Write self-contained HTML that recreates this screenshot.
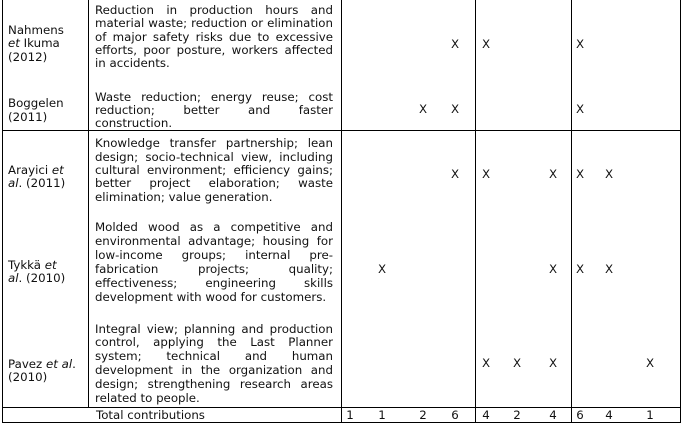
<!DOCTYPE html>
<html><head><meta charset="utf-8"><style>
body{margin:0;width:684px;height:425px;background:#fff;position:relative;overflow:hidden;font-family:"DejaVu Sans",Verdana,sans-serif;font-size:11.8px;color:#111}
.l{position:absolute;line-height:14px;white-space:nowrap}
.j{position:absolute;left:95px;width:238px;line-height:14px;text-align:justify;text-align-last:justify;white-space:nowrap}
.j.e{text-align-last:left}
.v{position:absolute;width:1px;background:#000}
.h{position:absolute;height:1px;background:#000}
.x{position:absolute;line-height:14px;width:20px;text-align:center;margin-left:-10px}
</style></head><body>
<div class="v" style="left:2px;top:0;height:423px"></div>
<div class="v" style="left:88px;top:0;height:407px"></div>
<div class="v" style="left:341px;top:0;height:423px"></div>
<div class="v" style="left:475px;top:0;height:423px"></div>
<div class="v" style="left:571px;top:0;height:423px"></div>
<div class="v" style="left:680px;top:0;height:423px"></div>
<div class="h" style="left:2px;top:130px;width:679px"></div>
<div class="h" style="left:2px;top:407px;width:679px"></div>
<div class="h" style="left:2px;top:422px;width:679px"></div>

<div class="l" style="left:8px;top:23px">Nahmens</div>
<div class="l" style="left:8px;top:36px"><i>et</i> Ikuma</div>
<div class="l" style="left:8px;top:50px">(2012)</div>
<div class="j" style="top:3px">Reduction in production hours and</div>
<div class="j" style="top:16px">material waste; reduction or elimination</div>
<div class="j" style="top:30px">of major safety risks due to excessive</div>
<div class="j" style="top:43px">efforts, poor posture, workers affected</div>
<div class="j e" style="top:56px">in accidents.</div>

<div class="l" style="left:8px;top:96px">Boggelen</div>
<div class="l" style="left:8px;top:110px">(2011)</div>
<div class="j" style="top:90px">Waste reduction; energy reuse; cost</div>
<div class="j" style="top:103px">reduction; better and faster</div>
<div class="j e" style="top:116px">construction.</div>

<div class="l" style="left:8px;top:163px">Arayici <i>et</i></div>
<div class="l" style="left:8px;top:176px"><i>al</i>. (2011)</div>
<div class="j" style="top:136px">Knowledge transfer partnership; lean</div>
<div class="j" style="top:150px">design; socio-technical view, including</div>
<div class="j" style="top:163px">cultural environment; efficiency gains;</div>
<div class="j" style="top:176px">better project elaboration; waste</div>
<div class="j e" style="top:190px">elimination; value generation.</div>

<div class="l" style="left:8px;top:258px">Tykkä <i>et</i></div>
<div class="l" style="left:8px;top:271px"><i>al</i>. (2010)</div>
<div class="j" style="top:220px">Molded wood as a competitive and</div>
<div class="j" style="top:234px">environmental advantage; housing for</div>
<div class="j" style="top:248px">low-income groups; internal pre-</div>
<div class="j" style="top:262px">fabrication projects; quality;</div>
<div class="j" style="top:276px">effectiveness; engineering skills</div>
<div class="j e" style="top:290px">development with wood for customers.</div>

<div class="l" style="left:8px;top:357px">Pavez <i>et al</i>.</div>
<div class="l" style="left:8px;top:370px">(2010)</div>
<div class="j" style="top:322px">Integral view; planning and production</div>
<div class="j" style="top:335px">control, applying the Last Planner</div>
<div class="j" style="top:349px">system; technical and human</div>
<div class="j" style="top:363px">development in the organization and</div>
<div class="j" style="top:377px">design; strengthening research areas</div>
<div class="j e" style="top:391px">related to people.</div>

<div class="l" style="left:96px;top:408px">Total contributions</div>

<div class="x" style="left:455px;top:37px">X</div><div class="x" style="left:486px;top:37px">X</div><div class="x" style="left:580px;top:37px">X</div>
<div class="x" style="left:423px;top:102px">X</div><div class="x" style="left:455px;top:102px">X</div><div class="x" style="left:580px;top:102px">X</div>
<div class="x" style="left:455px;top:167px">X</div><div class="x" style="left:486px;top:167px">X</div><div class="x" style="left:553px;top:167px">X</div><div class="x" style="left:580px;top:167px">X</div><div class="x" style="left:609px;top:167px">X</div>
<div class="x" style="left:382px;top:262px">X</div><div class="x" style="left:553px;top:262px">X</div><div class="x" style="left:580px;top:262px">X</div><div class="x" style="left:609px;top:262px">X</div>
<div class="x" style="left:486px;top:356px">X</div><div class="x" style="left:517px;top:356px">X</div><div class="x" style="left:553px;top:356px">X</div><div class="x" style="left:650px;top:356px">X</div>

<div class="x" style="left:350px;top:408px">1</div><div class="x" style="left:382px;top:408px">1</div><div class="x" style="left:423px;top:408px">2</div><div class="x" style="left:455px;top:408px">6</div>
<div class="x" style="left:486px;top:408px">4</div><div class="x" style="left:517px;top:408px">2</div><div class="x" style="left:553px;top:408px">4</div>
<div class="x" style="left:580px;top:408px">6</div><div class="x" style="left:609px;top:408px">4</div><div class="x" style="left:650px;top:408px">1</div>
</body></html>
